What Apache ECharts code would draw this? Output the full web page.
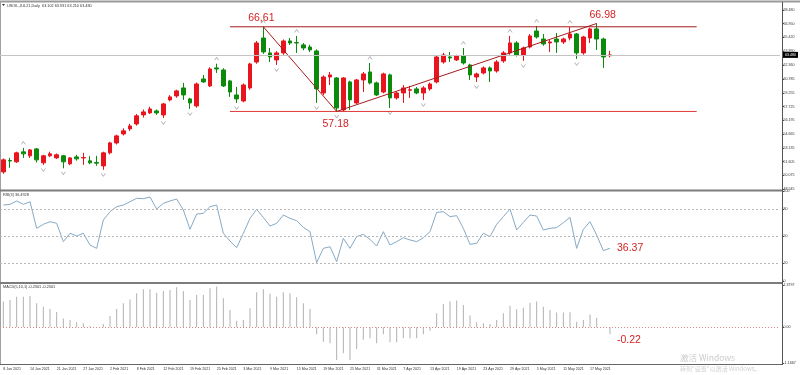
<!DOCTYPE html>
<html><head><meta charset="utf-8">
<script src="https://cdn.jsdelivr.net/npm/echarts@6/dist/echarts.min.js"></script>
<style>html,body{margin:0;padding:0;background:#fff}#c{width:800px;height:375px}</style>
</head><body><div id="c"></div>
<script>
const dates = ['8 Jan 2021','11 Jan 2021','12 Jan 2021','13 Jan 2021','14 Jan 2021','15 Jan 2021','19 Jan 2021','20 Jan 2021','21 Jan 2021','22 Jan 2021','25 Jan 2021','26 Jan 2021','27 Jan 2021','28 Jan 2021','29 Jan 2021',
'1 Feb 2021','2 Feb 2021','3 Feb 2021','4 Feb 2021','5 Feb 2021','8 Feb 2021','9 Feb 2021','10 Feb 2021','11 Feb 2021','12 Feb 2021','16 Feb 2021','17 Feb 2021','18 Feb 2021','19 Feb 2021','22 Feb 2021','23 Feb 2021','24 Feb 2021','25 Feb 2021','26 Feb 2021',
'1 Mar 2021','2 Mar 2021','3 Mar 2021','4 Mar 2021','5 Mar 2021','8 Mar 2021','9 Mar 2021','10 Mar 2021','11 Mar 2021','12 Mar 2021','15 Mar 2021','16 Mar 2021','17 Mar 2021','18 Mar 2021','19 Mar 2021','22 Mar 2021','23 Mar 2021','24 Mar 2021','25 Mar 2021','26 Mar 2021','29 Mar 2021','30 Mar 2021','31 Mar 2021',
'1 Apr 2021','5 Apr 2021','6 Apr 2021','7 Apr 2021','8 Apr 2021','9 Apr 2021','12 Apr 2021','13 Apr 2021','14 Apr 2021','15 Apr 2021','16 Apr 2021','19 Apr 2021','20 Apr 2021','21 Apr 2021','22 Apr 2021','23 Apr 2021','26 Apr 2021','27 Apr 2021','28 Apr 2021','29 Apr 2021','30 Apr 2021',
'3 May 2021','4 May 2021','5 May 2021','6 May 2021','7 May 2021','10 May 2021','11 May 2021','12 May 2021','13 May 2021','14 May 2021','17 May 2021','18 May 2021','19 May 2021','20 May 2021'];

// [open, close, low, high]
const candles = [
[50.45,51.79,50.23,51.95],[51.72,51.66,50.90,52.01],[51.57,52.57,51.45,52.70],[52.68,52.46,52.01,53.12],[52.24,52.90,52.00,53.00],
[53.01,51.79,51.50,53.10],[51.46,52.24,51.23,52.35],[52.24,52.46,52.10,52.70],[52.01,52.35,51.90,52.50],[52.24,51.57,50.85,52.35],
[51.35,52.01,51.20,52.10],[52.12,51.90,51.70,52.35],[52.00,52.05,51.23,52.57],[51.68,51.46,51.30,52.20],[51.50,51.42,51.12,52.24],
[51.12,52.57,50.68,52.70],[52.57,53.68,52.40,53.80],[53.68,54.46,53.50,54.60],[54.68,55.02,54.50,55.30],[55.24,55.57,55.00,55.80],
[55.79,56.69,55.60,56.90],[56.80,57.13,56.50,57.40],[57.02,57.46,56.90,57.70],[57.24,57.02,56.80,57.40],[56.80,58.02,56.46,58.13],
[58.47,58.80,58.30,59.00],[58.91,59.47,58.70,59.60],[59.80,59.02,58.47,60.36],[58.58,58.13,57.46,58.70],[57.80,60.24,57.60,60.40],
[60.80,60.47,60.36,61.25],[60.02,61.91,59.90,62.10],[62.03,61.91,61.47,62.50],[61.80,60.02,59.90,62.00],[60.58,59.35,58.80,60.70],
[59.02,58.58,58.13,59.91],[58.35,60.13,58.20,60.30],[59.80,62.47,59.60,62.60],[62.69,64.81,62.50,65.03],[65.36,63.81,63.60,66.61],
[63.70,63.25,62.69,64.25],[62.92,63.70,62.36,63.90],[63.70,65.03,63.50,65.20],[65.03,64.81,64.59,65.36],[64.85,64.81,63.70,65.59],
[64.59,64.25,64.00,64.80],[64.36,64.03,63.80,64.60],[63.92,59.69,58.13,64.10],[59.24,61.02,59.00,61.20],[61.02,61.25,60.13,61.58],
[60.91,57.57,57.18,61.00],[57.35,60.91,57.20,61.00],[60.47,58.47,57.35,60.60],[58.13,60.69,58.00,60.80],[60.69,61.36,59.35,61.58],
[61.58,60.36,60.20,62.58],[60.36,59.02,58.90,60.50],[59.35,61.36,59.20,61.50],[61.25,58.69,57.57,61.40],[58.69,59.24,58.50,59.40],
[59.24,59.80,58.13,60.13],[59.55,59.60,58.69,60.02],[59.69,59.24,59.10,59.90],[59.24,59.80,58.47,60.00],[59.69,60.24,59.50,60.40],
[60.47,63.25,60.30,63.40],[62.69,63.47,62.50,63.70],[63.25,63.14,62.69,63.81],[62.92,63.36,62.80,63.50],[63.36,62.58,62.40,64.25],
[62.36,61.25,60.69,62.50],[61.02,61.36,60.47,61.50],[61.47,62.03,61.30,62.20],[62.03,61.69,60.47,62.20],[61.69,62.69,61.50,62.90],
[62.81,63.70,62.60,63.90],[63.70,64.81,63.50,65.59],[64.81,63.47,63.30,65.00],[63.47,64.25,62.81,64.40],[64.36,65.59,64.20,65.80],
[66.14,65.48,65.30,66.70],[65.25,64.70,64.50,65.81],[64.81,64.92,63.81,65.14],[65.25,64.92,63.70,65.92],[64.92,65.25,64.70,65.40],
[65.36,65.81,65.10,66.59],[65.81,63.70,63.03,65.92],[63.70,65.48,63.50,65.60],[65.36,66.37,64.81,66.50],[66.37,65.25,64.03,66.98],
[65.25,63.25,62.03,65.40],[63.39,63.48,63.21,63.93]
];

const rsi = [84.4,85.2,88.9,85.2,88.1,58.5,63.0,65.9,64.1,43.7,
53.0,50.0,53.0,40.0,36.3,67.8,77.0,82.6,84.4,88.1,
91.9,91.5,93.3,80.0,86.3,88.9,91.1,78.9,57.4,74.4,
75.2,82.6,84.4,53.0,44.4,37.0,53.0,69.6,79.6,70.7,
61.1,64.1,73.3,69.6,67.0,59.6,54.8,20.4,36.3,38.1,
21.5,47.4,36.3,49.3,51.9,46.3,38.9,54.8,40.0,43.7,
48.1,45.6,43.7,48.1,54.8,76.3,77.0,71.5,72.6,58.5,
40.7,41.9,53.0,49.3,63.0,71.5,80.0,56.7,65.2,73.3,
72.2,56.7,58.5,59.3,64.8,70.7,36.3,57.4,65.9,51.1,
33.7,36.4];

const macd = [0.84,0.89,1.00,1.00,1.02,0.78,0.67,0.60,0.50,0.29,
0.24,0.16,0.13,0.04,-0.01,0.11,0.37,0.60,0.78,0.91,
1.11,1.24,1.24,1.13,1.18,1.22,1.31,1.18,0.89,1.05,
1.05,1.27,1.33,0.95,0.56,0.21,0.24,0.62,1.14,1.24,
1.09,1.00,1.14,1.11,0.98,0.78,0.60,-0.23,-0.47,-0.52,
-1.07,-0.85,-1.07,-0.71,-0.41,-0.36,-0.52,-0.23,-0.49,-0.49,
-0.36,-0.36,-0.36,-0.23,-0.11,0.46,0.76,0.84,0.87,0.73,
0.38,0.16,0.13,0.11,0.24,0.46,0.70,0.59,0.64,0.80,
0.84,0.67,0.56,0.48,0.48,0.49,0.18,0.24,0.42,0.31,
0.02,-0.23];

const priceTicks = [48.545,50.075,51.605,53.135,54.665,56.195,57.725,59.255,60.785,62.360,63.890,65.420,66.950,68.480];
const rsiTicks = [0,20,50,80,100];
const macdTicks = [-1.1667,0,1.3797];
const bidPrice = 63.48;
const resistance = 66.61, support = 57.18;
const levelFrom = 34, levelTo = 104;
const trendPoints = [[39,66.61],[50,57.18],[89,66.98]];
const peakLabels = ['66,61','57.18','66.98'];
const rsiLast = '36.37', macdLast = '-0.22';
const fractalUp = [3,32,39,44,55,69,76,80,85];
const fractalDown = [6,9,15,24,28,35,41,47,50,58,63,71,78,86];
const headerMain = 'USOIL,JUL21,Daily  63.102 63.931 63.210 63.480';
const headerRsi = 'RSI(3) 36.4928';
const headerMacd = 'MACD(5,10,1) -0.2301 -0.2301';

const categories = dates.concat(new Array(25).fill(''));
const chart = echarts.init(document.getElementById('c'), null, {renderer:'canvas'});
const small = {fontSize:3.6, color:'#333', fontFamily:'Liberation Sans'};
const red = '#d42424';
const annoLabel = {show:true, color:red, fontSize:10.5, fontFamily:'Liberation Sans'};

function xAx(i, show){
  return {type:'category', gridIndex:i, data:categories, boundaryGap:true,
    axisLine:{show:false}, axisTick:{show:false}, splitLine:{show:false},
    axisLabel: show ? Object.assign({show:true, interval:(idx)=> idx%4===0 && idx<dates.length, align:'left', margin:4}, small) : {show:false}};
}
function yAx(i, min, max, ticks, fmt){
  return {type:'value', gridIndex:i, position:'right', offset:2, min:min, max:max, scale:true,
    axisLine:{show:false}, splitLine:{show:false},
    axisTick:{show:true, length:2, customValues:ticks, lineStyle:{color:'#555'}},
    axisLabel:Object.assign({show:true, customValues:ticks, formatter:fmt, margin:1.5}, small)};
}

const option = {
  animation:false,
  backgroundColor:'#fff',
  grid:[
    {left:0, right:20, top:10, height:179},
    {left:0, right:20, top:191, height:90},
    {left:0, right:20, top:285, height:78}
  ],
  xAxis:[xAx(0,false), xAx(1,false), xAx(2,true)],
  yAxis:[
    yAx(0, 48.545, 68.48, priceTicks, v=>v.toFixed(3)),
    yAx(1, 0, 100, rsiTicks, v=>String(v)),
    yAx(2, -1.1667, 1.3797, macdTicks, v=> v===0 ? '0.00' : v.toFixed(4))
  ],
  series:[
    {type:'candlestick', xAxisIndex:0, yAxisIndex:0, data:candles, barWidth:4,
      itemStyle:{color:'#e8141e', color0:'#0b8a0b', borderColor:'#e8141e', borderColor0:'#0b8a0b', borderWidth:1},
      markLine:{silent:true, symbol:'none', animation:false,
        lineStyle:{color:'#c4c4c4', type:'solid', width:1},
        label:{show:true, position:'end', distance:3, formatter:bidPrice.toFixed(3), backgroundColor:'#000', color:'#fff', fontSize:3.6, padding:[1,2], fontFamily:'Liberation Sans'},
        data:[{yAxis:bidPrice}]}
    },
    {type:'line', xAxisIndex:0, yAxisIndex:0, data:[[levelFrom,resistance],[levelTo,resistance]], symbol:'none',
      lineStyle:{color:'#a51c1c', width:1}, silent:true},
    {type:'line', xAxisIndex:0, yAxisIndex:0, data:[[levelFrom,support],[levelTo,support]], symbol:'none',
      lineStyle:{color:'#e03a3a', width:1}, silent:true},
    {type:'line', xAxisIndex:0, yAxisIndex:0, data:trendPoints, symbol:'none',
      lineStyle:{color:'#a51c1c', width:1}, silent:true,
      markPoint:{symbol:'circle', symbolSize:0, label:annoLabel,
        data:[
          {coord:trendPoints[0], value:peakLabels[0], label:{offset:[-2,-9]}},
          {coord:trendPoints[1], value:peakLabels[1], label:{offset:[-1,13]}},
          {coord:trendPoints[2], value:peakLabels[2], label:{offset:[6,-8]}}
        ]}
    },
    {type:'scatter', xAxisIndex:0, yAxisIndex:0, data:fractalUp.map(i=>[i,candles[i][3]]),
      symbol:'path://M0,6 L5,0 L10,6', symbolSize:[4,3], symbolOffset:[0,-5],
      itemStyle:{color:'transparent', borderColor:'#8a8a8a', borderWidth:0.8}, silent:true},
    {type:'scatter', xAxisIndex:0, yAxisIndex:0, data:fractalDown.map(i=>[i,candles[i][2]]),
      symbol:'path://M0,0 L5,6 L10,0', symbolSize:[4,3], symbolOffset:[0,5],
      itemStyle:{color:'transparent', borderColor:'#8a8a8a', borderWidth:0.8}, silent:true},
    {type:'line', xAxisIndex:1, yAxisIndex:1, data:rsi, symbol:'none',
      lineStyle:{color:'#86aac6', width:1}, silent:true,
      markLine:{silent:true, symbol:'none', label:{show:false},
        lineStyle:{color:'#b8b8b8', type:[2,2], width:1},
        data:[{yAxis:20},{yAxis:50},{yAxis:80}]},
      markPoint:{symbol:'circle', symbolSize:0, label:Object.assign({}, annoLabel, {align:'left', offset:[7,0]}),
        data:[{coord:[rsi.length-1, rsi[rsi.length-1]], value:rsiLast}]}
    },
    {type:'bar', xAxisIndex:2, yAxisIndex:2, data:macd, barWidth:1,
      itemStyle:{color:'#b0b0b0'}, silent:true,
      markLine:{silent:true, symbol:'none', label:{show:false},
        lineStyle:{color:'#d48a8a', type:[1,2], width:1},
        data:[{yAxis:0}]},
      markPoint:{symbol:'circle', symbolSize:0, label:Object.assign({}, annoLabel, {align:'left', offset:[7,6]}),
        data:[{coord:[macd.length-1, macd[macd.length-1]], value:macdLast}]}
    }
  ],
  graphic:[
    {type:'line', shape:{x1:0, y1:1.5, x2:800, y2:1.5}, style:{stroke:'#9a9a9a', lineWidth:2}, silent:true},
    {type:'line', shape:{x1:0.5, y1:2, x2:0.5, y2:365}, style:{stroke:'#a0a0a0', lineWidth:1}, silent:true},
    {type:'line', shape:{x1:0, y1:190.5, x2:783, y2:190.5}, style:{stroke:'#7c7c7c', lineWidth:2}, silent:true},
    {type:'line', shape:{x1:0, y1:283, x2:783, y2:283}, style:{stroke:'#7c7c7c', lineWidth:2}, silent:true},
    {type:'line', shape:{x1:0, y1:364.5, x2:783, y2:364.5}, style:{stroke:'#666', lineWidth:1}, silent:true},
    {type:'line', shape:{x1:782.5, y1:2, x2:782.5, y2:365}, style:{stroke:'#555', lineWidth:1}, silent:true},
    {type:'polygon', shape:{points:[[2,4],[5,4],[3.5,6]]}, style:{fill:'#333'}, silent:true},
    {type:'text', x:7, y:5.5, style:{text:headerMain, fontSize:3.8, fill:'#333', fontFamily:'Liberation Sans', verticalAlign:'middle'}, silent:true},
    {type:'text', x:3, y:195, style:{text:headerRsi, fontSize:3.8, fill:'#333', fontFamily:'Liberation Sans', verticalAlign:'middle'}, silent:true},
    {type:'text', x:3, y:287, style:{text:headerMacd, fontSize:3.8, fill:'#333', fontFamily:'Liberation Sans', verticalAlign:'middle'}, silent:true},
    {type:'text', x:680, y:358, style:{text:'激活 Windows', fontSize:8.5, fill:'#cbcbcb', fontFamily:'Noto Sans CJK SC', verticalAlign:'middle'}, silent:true},
    {type:'text', x:680, y:368.5, style:{text:'转到"设置"以激活 Windows。', fontSize:6, fill:'#d0d0d0', fontFamily:'Noto Sans CJK SC', verticalAlign:'middle'}, silent:true}
  ]
};
chart.setOption(option);
</script>
</body></html>
